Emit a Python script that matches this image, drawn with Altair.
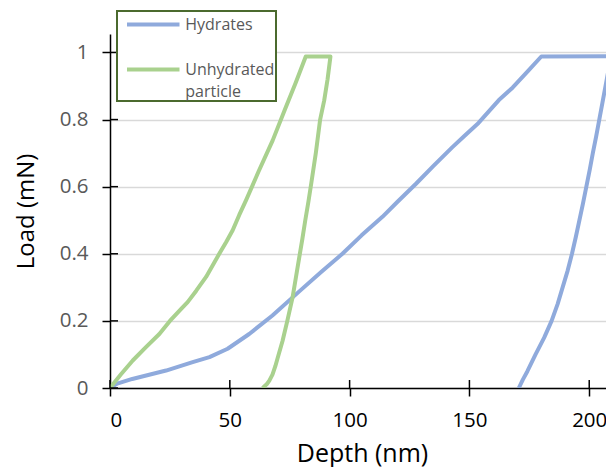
import altair as alt
import pandas as pd

# Hydrates: loading, hold, unloading
hyd_depth = [0, 3, 9.3, 23.4, 34.5, 41.5, 49.1, 58.1, 67.8, 79, 88, 97, 105, 113.7, 120, 127.6, 135, 142.8, 148,
             153.8, 162.3, 168, 174.6, 180,
             209.4, 208.1, 206.8, 205.5, 204.2, 202.9, 201.5, 200.2, 198.8, 197.4, 195.9, 194.4, 192.8, 191.0,
             188.9, 186.8, 184.3, 181.2, 177.6, 174.2, 172.3, 170.6]
hyd_load = [0, 0.013, 0.027, 0.052, 0.077, 0.092, 0.117, 0.161, 0.216, 0.288, 0.345, 0.40, 0.455, 0.51, 0.555,
            0.608, 0.662, 0.717, 0.752, 0.79, 0.858, 0.895, 0.946, 0.988,
            0.989, 0.95, 0.9, 0.85, 0.8, 0.75, 0.7, 0.65, 0.6, 0.55, 0.5, 0.45, 0.4, 0.35,
            0.3, 0.25, 0.2, 0.15, 0.1, 0.05, 0.025, 0]

# Unhydrated particle: loading, hold, unloading
unh_depth = [0, 4.5, 9.5, 15, 20.6, 25, 29.7, 32.4, 36, 40.1, 45.6, 48.5, 51.2, 53.9, 56.8, 62, 67.9, 73, 77.5, 81.7,
             92, 90.8, 89.4, 87.7, 85.9, 84, 82.8, 81.5, 80.3, 79, 77.6, 76.2, 74, 72, 70, 69, 67.8, 66.5, 65.5, 63.7]
unh_load = [0, 0.04, 0.082, 0.122, 0.161, 0.2, 0.236, 0.256, 0.29, 0.331, 0.40, 0.435, 0.47, 0.515, 0.56, 0.645,
            0.738, 0.83, 0.91, 0.988,
            0.988, 0.92, 0.857, 0.8, 0.7, 0.61, 0.555, 0.5, 0.445, 0.39, 0.33, 0.27, 0.2, 0.14, 0.09, 0.065,
            0.04, 0.022, 0.012, 0]

series_names = ["Hydrates", "Unhydrated particle"]
series_colors = ["#8FAADC", "#A9D18E"]
x_ticks = [0, 50, 100, 150, 200]
y_ticks = [0, 0.2, 0.4, 0.6, 0.8, 1]

rows = []
for name, ds, ls in [(series_names[0], hyd_depth, hyd_load), (series_names[1], unh_depth, unh_load)]:
    for i, (d, l) in enumerate(zip(ds, ls)):
        rows.append({"series": name, "depth": d, "load": l, "order": i})
df = pd.DataFrame(rows)

W, H = 496, 354
x_scale = alt.Scale(domain=[0, 207], nice=False, zero=False)
y_scale = alt.Scale(domain=[0, 1.055], nice=False)

label_expr = ("datum.label == 'Unhydrated particle' ? ['Unhydrated\u00a0\u00a0\u00a0', 'particle'] : datum.label")

lines = alt.Chart(df).mark_line(strokeWidth=4, strokeJoin="round", clip=True).encode(
    x=alt.X("depth:Q", scale=x_scale,
            axis=alt.Axis(title="Depth (nm)", values=x_ticks, format="d", ticks=True, tickSize=8,
                          tickColor="black", tickWidth=1.5, grid=False,
                          labelPadding=14, labelColor="black", labelFontSize=20.5,
                          titleFontSize=25, titleFontWeight="normal", titleColor="black",
                          titleBaseline="alphabetic", titleY=73, titleX=W / 2 + 4,
                          domainColor="black", domainWidth=1.5)),
    y=alt.Y("load:Q", scale=y_scale,
            axis=alt.Axis(title="Load (mN)", values=y_ticks, format="~g", ticks=True, tickSize=8,
                          tickColor="black", tickWidth=1.5, grid=True,
                          gridColor="#d9d9d9", gridWidth=1.5,
                          labelPadding=14, labelColor="#595959", labelFontSize=20.5,
                          titleFontSize=24, titleFontWeight="normal", titleColor="black",
                          titleBaseline="alphabetic", titleX=-77, titleY=H / 2, titleAngle=-90,
                          domainColor="black", domainWidth=1.5)),
    color=alt.Color("series:N", scale=alt.Scale(domain=series_names, range=series_colors),
                    legend=alt.Legend(title=None, orient="none", legendX=7, legendY=-23,
                                      direction="vertical", symbolType="M-2.5,0H2.5", symbolSize=441,
                                      symbolStrokeWidth=4, symbolOffset=22.75, labelFontSize=16,
                                      labelColor="#595959", labelOffset=19.5, padding=1, rowPadding=24,
                                      labelExpr=label_expr,
                                      fillColor="white", strokeColor="#4b6a2e")),
    order="order:Q",
)

xt = alt.Chart(pd.DataFrame({"v": x_ticks})).mark_rule(color="black", strokeWidth=1.5).encode(
    x=alt.X("v:Q", scale=x_scale), y=alt.value(H - 8), y2=alt.value(H))
yt = alt.Chart(pd.DataFrame({"v": y_ticks})).mark_rule(color="black", strokeWidth=1.5).encode(
    y=alt.Y("v:Q", scale=y_scale), x=alt.value(0), x2=alt.value(8))

chart = alt.layer(lines, xt, yt).properties(
    width=W, height=H,
    padding={"left": 102, "top": 26, "right": 0, "bottom": 79},
    autosize=alt.AutoSizeParams(type="none"),
).configure(
    font="Open Sans",
    style={"guide-label": {"lineHeight": 22}},
).configure_view(stroke=None).configure_legend(strokeWidth=2)

chart.save("out.html", embed_options={"renderer": "svg", "actions": False})
